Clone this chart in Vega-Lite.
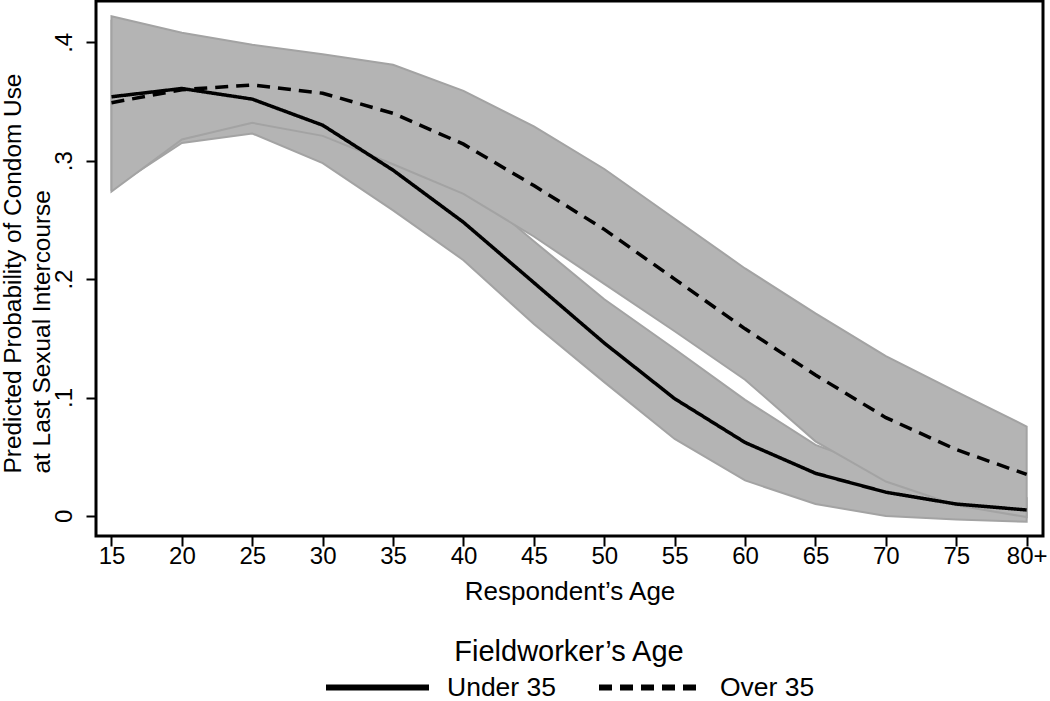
{
  "$schema": "https://vega.github.io/schema/vega-lite/v6.json",
  "width": 947,
  "height": 535,
  "autosize": {"type": "none"},
  "padding": {"left": 96, "top": 1, "right": 7, "bottom": 165},
  "background": "white",
  "config": {
    "font": "Liberation Sans",
    "view": {"stroke": "black", "strokeWidth": 3},
    "axis": {
      "domain": false, "grid": false,
      "tickColor": "black", "tickWidth": 2, "tickSize": 10,
      "labelColor": "black", "titleColor": "black",
      "labelFontSize": 24, "titleFontSize": 26,
      "labelFont": "Liberation Sans", "titleFont": "Liberation Sans",
      "titleFontWeight": "normal"
    }
  },
  "data": {
    "values": [
      {"age": 15, "group": "Under 35", "fit": 0.354, "lo": 0.276, "hi": 0.418},
      {"age": 20, "group": "Under 35", "fit": 0.361, "lo": 0.315, "hi": 0.400},
      {"age": 25, "group": "Under 35", "fit": 0.352, "lo": 0.323, "hi": 0.385},
      {"age": 30, "group": "Under 35", "fit": 0.330, "lo": 0.298, "hi": 0.362},
      {"age": 35, "group": "Under 35", "fit": 0.292, "lo": 0.258, "hi": 0.327},
      {"age": 40, "group": "Under 35", "fit": 0.248, "lo": 0.216, "hi": 0.282},
      {"age": 45, "group": "Under 35", "fit": 0.197, "lo": 0.162, "hi": 0.232},
      {"age": 50, "group": "Under 35", "fit": 0.146, "lo": 0.113, "hi": 0.183},
      {"age": 55, "group": "Under 35", "fit": 0.099, "lo": 0.065, "hi": 0.141},
      {"age": 60, "group": "Under 35", "fit": 0.062, "lo": 0.030, "hi": 0.098},
      {"age": 65, "group": "Under 35", "fit": 0.036, "lo": 0.010, "hi": 0.060},
      {"age": 70, "group": "Under 35", "fit": 0.020, "lo": 0.000, "hi": 0.038},
      {"age": 75, "group": "Under 35", "fit": 0.010, "lo": -0.003, "hi": 0.024},
      {"age": 80, "group": "Under 35", "fit": 0.005, "lo": -0.005, "hi": 0.015},
      {"age": 15, "group": "Over 35", "fit": 0.349, "lo": 0.274, "hi": 0.422},
      {"age": 20, "group": "Over 35", "fit": 0.360, "lo": 0.318, "hi": 0.408},
      {"age": 25, "group": "Over 35", "fit": 0.364, "lo": 0.332, "hi": 0.398},
      {"age": 30, "group": "Over 35", "fit": 0.357, "lo": 0.321, "hi": 0.390},
      {"age": 35, "group": "Over 35", "fit": 0.340, "lo": 0.297, "hi": 0.381},
      {"age": 40, "group": "Over 35", "fit": 0.314, "lo": 0.272, "hi": 0.359},
      {"age": 45, "group": "Over 35", "fit": 0.279, "lo": 0.236, "hi": 0.329},
      {"age": 50, "group": "Over 35", "fit": 0.242, "lo": 0.196, "hi": 0.293},
      {"age": 55, "group": "Over 35", "fit": 0.200, "lo": 0.156, "hi": 0.251},
      {"age": 60, "group": "Over 35", "fit": 0.158, "lo": 0.115, "hi": 0.209},
      {"age": 65, "group": "Over 35", "fit": 0.119, "lo": 0.063, "hi": 0.171},
      {"age": 70, "group": "Over 35", "fit": 0.083, "lo": 0.029, "hi": 0.135},
      {"age": 75, "group": "Over 35", "fit": 0.056, "lo": 0.009, "hi": 0.105},
      {"age": 80, "group": "Over 35", "fit": 0.035, "lo": -0.001, "hi": 0.0755}
    ]
  },
  "layer": [
    {
      "transform": [{"filter": "datum.group == 'Under 35'"}],
      "mark": {"type": "area", "fill": "#b4b4b4", "stroke": "#a3a3a3", "strokeWidth": 2, "opacity": 1},
      "encoding": {
        "x": {"field": "age", "type": "quantitative", "scale": {"domain": [13.90, 81.16], "nice": false, "zero": false},
          "axis": {"values": [15, 20, 25, 30, 35, 40, 45, 50, 55, 60, 65, 70, 75, 80], "labelExpr": "datum.value == 80 ? '80+' : datum.label", "title": "Respondent’s Age", "labelPadding": -2, "titlePadding": 10}},
        "y": {"field": "hi", "type": "quantitative", "scale": {"domain": [-0.01698, 0.4349], "nice": false, "zero": false},
          "axis": {"values": [0, 0.1, 0.2, 0.3, 0.4], "labelExpr": "datum.value == 0 ? '0' : '.' + round(datum.value * 10)", "labelAngle": -90, "labelAlign": "center", "labelBaseline": "alphabetic", "labelPadding": 15,
            "title": ["Predicted Probability of Condom Use", "at Last Sexual Intercourse"], "titleFontSize": 24.4, "titleAngle": -90, "titleAlign": "left", "titleBaseline": "alphabetic", "titleX": -75.5, "titleY": 472, "titleLineHeight": 29}},
        "y2": {"field": "lo"}
      }
    },
    {
      "transform": [{"filter": "datum.group == 'Over 35'"}],
      "mark": {"type": "area", "fill": "#b4b4b4", "stroke": "#a3a3a3", "strokeWidth": 2, "opacity": 1},
      "encoding": {
        "x": {"field": "age", "type": "quantitative", "scale": {"domain": [13.90, 81.16], "nice": false, "zero": false}},
        "y": {"field": "hi", "type": "quantitative", "scale": {"domain": [-0.01698, 0.4349], "nice": false, "zero": false}},
        "y2": {"field": "lo"}
      }
    },
    {
      "mark": {"type": "line", "color": "black", "strokeWidth": 3.5},
      "encoding": {
        "x": {"field": "age", "type": "quantitative", "scale": {"domain": [13.90, 81.16], "nice": false, "zero": false}},
        "y": {"field": "fit", "type": "quantitative", "scale": {"domain": [-0.01698, 0.4349], "nice": false, "zero": false}},
        "strokeDash": {
          "field": "group", "type": "nominal",
          "scale": {"domain": ["Under 35", "Over 35"], "range": [[1, 0], [13, 8]]},
          "legend": {
            "orient": "none", "legendX": 227, "legendY": 637, "direction": "horizontal",
            "title": "Fieldworker’s Age", "titleFontSize": 29, "titleFontWeight": "normal", "titleColor": "black",
            "titleFont": "Liberation Sans", "titleAnchor": "middle", "titleOrient": "top", "titlePadding": -34, "titleLimit": 600,
            "labelFontSize": 26.5, "labelColor": "black", "labelFont": "Liberation Sans", "labelOffset": 15, "labelLimit": 300,
            "columnPadding": 30, "symbolType": "stroke", "symbolSize": 10609, "symbolStrokeWidth": 6,
            "symbolStrokeColor": "black", "padding": 0,
            "encode": {"symbols": {"update": {"strokeDash": {"signal": "datum.value == 'Over 35' ? [22, 9] : [1, 0]"}}}}
          }
        }
      }
    }
  ]
}
